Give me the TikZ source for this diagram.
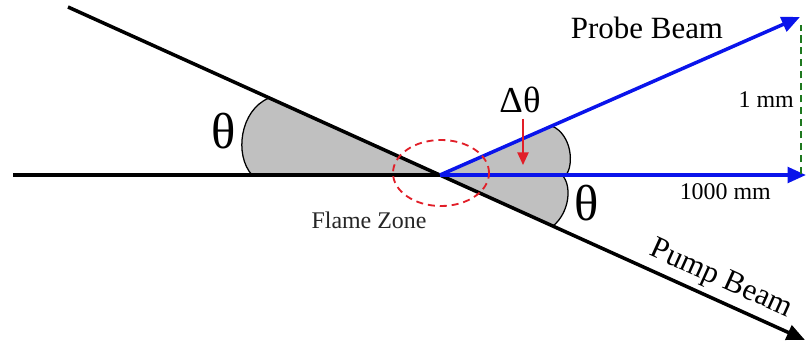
\documentclass[tikz,border=0pt]{standalone}
\usepackage{fontspec}
\setmainfont{Liberation Serif}
\usetikzlibrary{arrows.meta,positioning,calc,shapes.geometric}
\definecolor{beamblue}{RGB}{10,20,235}
\definecolor{flamered}{RGB}{225,30,40}
\definecolor{rulegreen}{RGB}{30,120,30}
\definecolor{wedgegray}{RGB}{192,192,192}

\begin{document}
\begin{tikzpicture}[x=0.025cm,y=-0.025cm,
    beam/.style={line width=2.5pt},
    wedge/.style={fill=wedgegray,draw=black,line width=0.9pt},
    lbl/.style={inner sep=0pt,font=\fontsize{17}{20}\selectfont},
    biglbl/.style={inner sep=0pt,font=\fontsize{22}{26}\selectfont},
    ang/.style={inner sep=0pt,font=\fontsize{36}{40}\selectfont},
    >={Triangle[length=13pt,width=11pt]}
]
\useasboundingbox (0,0) rectangle (807,354);
% beam points
\coordinate (O) at (440,175);
\coordinate (horizStart) at (13,175);
\coordinate (horizEnd) at (806,175);
\coordinate (pumpStart) at (68,7);
\coordinate (pumpEnd) at (805,340);
\coordinate (probeEnd) at (800,17);
\coordinate (mmTop) at (801,25);
\coordinate (mmBot) at (801,174);
\coordinate (dtip) at (523,165);
% grey angle wedges
\draw[wedge] (O) -- (252,175) .. controls (234,155) and (240,110) .. (269,98) -- cycle;
\draw[wedge] (O) -- (566,175) .. controls (574,165) and (572,135) .. (552,126) -- cycle;
\draw[wedge] (O) -- (562,175) .. controls (572,185) and (570,212) .. (553,226) -- cycle;
% beams
\draw[beam] (horizStart) -- (O);
\draw[beam,->] (pumpStart) -- (pumpEnd);
\draw[beam,beamblue,->] (O) -- (probeEnd);
\draw[beam,beamblue,->] (O) -- (horizEnd);
\draw[rulegreen,line width=1.4pt,dash pattern=on 5pt off 3.5pt] (mmBot) -- (mmTop);
% flame zone
\node[draw=flamered,line width=1.3pt,dash pattern=on 5pt off 3.5pt,ellipse,inner sep=0pt,
      minimum width=2.4cm,minimum height=1.65cm] (flame) at (441,173) {};
% labels
\node[ang] (thetaL) at (224,131) {θ};
\node[ang] (thetaR) at (587,203) {θ};
\node[inner sep=0pt,font=\fontsize{26}{30}\selectfont] (dtheta) at (520,100) {Δθ};
\draw[flamered,line width=1.2pt,-{Triangle[length=9pt,width=8pt]}] ([yshift=-4pt]dtheta.south -| dtip) -- (dtip);
\node[biglbl] (probe) at (647,28) {Probe Beam};
\node[biglbl,rotate=-24.3] (pump) at (721,280) {Pump Beam};
\node[lbl,anchor=east] (onemm) at (794,100) {1 mm};
\node[lbl,anchor=east] (longmm) at (771,192) {1000 mm};
\node[lbl,text=black!85] (flamelbl) at (369,220) {Flame Zone};
\end{tikzpicture}
\end{document}
